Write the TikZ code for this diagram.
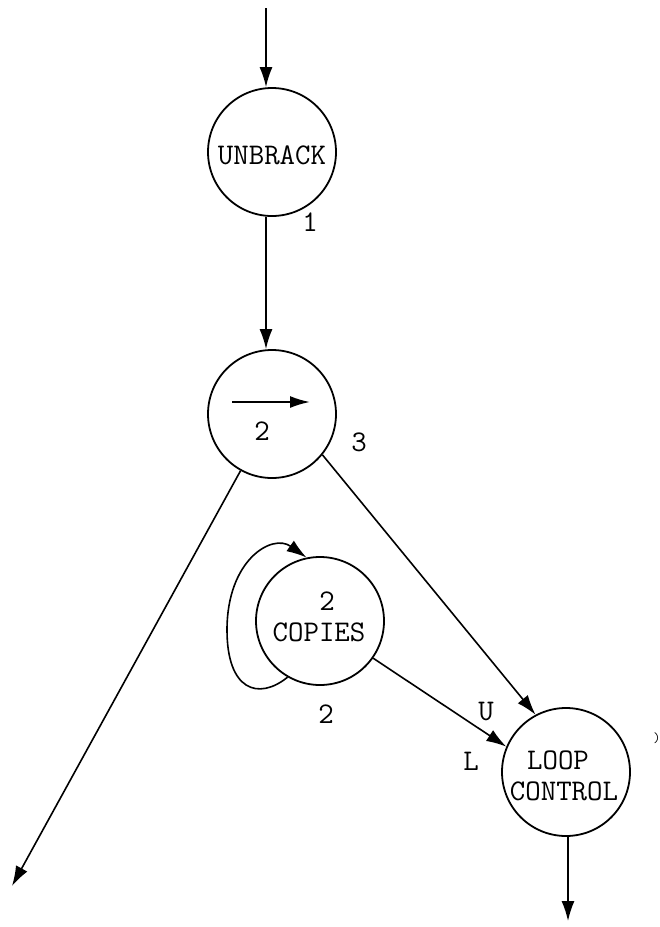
\documentclass[tikz,border=0pt]{standalone}
\usepackage{fontspec}
\usetikzlibrary{arrows.meta}
\begin{document}
\begin{tikzpicture}[x=1pt,y=-1pt, line width=1.6pt,
  proc/.style={circle, draw, line width=1.8pt, minimum size=128pt, inner sep=0pt},
  lbl/.style={font=\ttfamily\fontsize{30}{33}\selectfont, inner sep=0pt},
  arr/.style={-{Latex[length=20pt,width=13pt]}}]
\useasboundingbox (0,0) rectangle (660,927);
% process circles
\node[proc] (ub) at (272,152) {};
\node[proc] (sp) at (272,414) {};
\node[proc] (cp) at (320,621) {};
\node[proc] (lc) at (566,772) {};
% texts inside circles
\node[lbl] (ubt) at (272,155) {UNBRACK};
\node[lbl] (spt) at (262,431) {2};
\node[lbl] (cpt) at (327,601) {2};
\node[lbl] (cpn) at (319,632) {COPIES};
\node[lbl] (lct) at (558,760) {LOOP};
\node[lbl] (lcn) at (564,791) {CONTROL};
% arrow symbol inside second circle
\draw[line width=2pt, -{Latex[length=20pt,width=12pt]}] (232,402) -- (310,402);
% labels
\node[lbl] (l1) at (310,222) {1};
\node[lbl] (l3) at (359,442) {3};
\node[lbl] (l2) at (326,714) {2};
\node[lbl] (lu) at (486,712) {U};
\node[lbl] (ll) at (471,761) {L};
\node[font=\ttfamily\fontsize{14}{14}\selectfont, inner sep=0pt] (mk) at (657,738) {)};
% connectors
\coordinate (top) at (266,8);
\coordinate (leftend) at (12,886);
\coordinate (botend) at (568,921);
\draw[arr] (top) -- (top |- ub.north);
\draw[arr] (top |- ub.south) -- (top |- sp.north);
\draw[arr] (sp.241) -- (leftend);
\draw[arr] (sp.-39) -- (lc.118);
\draw[arr] (cp.-35) -- (lc.157);
\draw[arr] (cp.240) .. controls (258,701) and (227,690) .. (227,630)
                    .. controls (227,560) and (272,533) .. (cp.102);
\draw[arr] (botend |- lc.south) -- (botend);
\end{tikzpicture}
\end{document}
